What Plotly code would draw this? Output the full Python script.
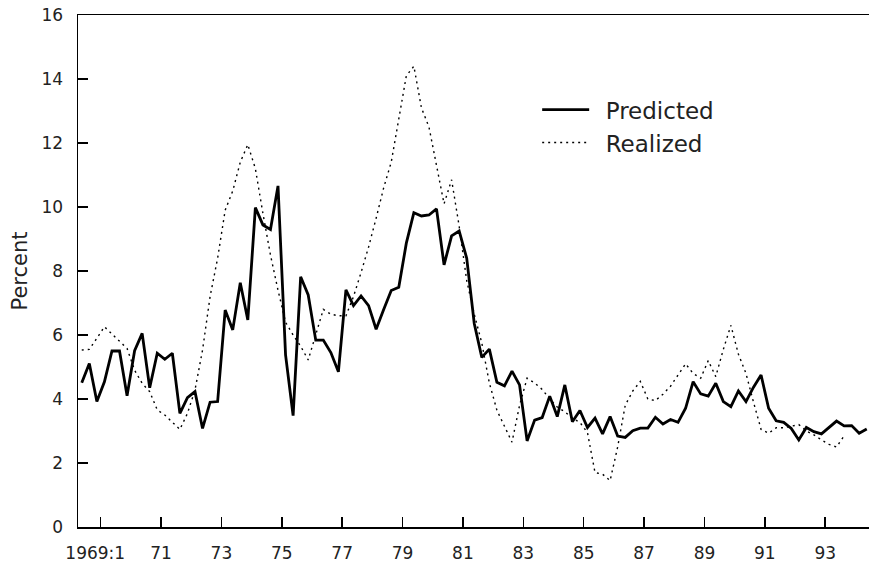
import plotly.graph_objects as go
import pandas as pd

# Quarterly periods, 1968:2 onward
predicted = [4.51, 5.11, 3.92, 4.54, 5.50, 5.50, 4.10, 5.51, 6.05, 4.35,
             5.43, 5.24, 5.43, 3.55, 4.04, 4.23, 3.08, 3.90, 3.92, 6.78,
             6.16, 7.63, 6.47, 9.98, 9.44, 9.30, 10.66, 5.38, 3.48, 7.82,
             7.25, 5.84, 5.84, 5.45, 4.85, 7.41, 6.92, 7.22, 6.92, 6.18,
             6.80, 7.39, 7.49, 8.87, 9.82, 9.72, 9.75, 9.94, 8.19, 9.10,
             9.25, 8.40, 6.36, 5.30, 5.56, 4.52, 4.41, 4.87, 4.44, 2.69,
             3.34, 3.42, 4.09, 3.45, 4.44, 3.29, 3.64, 3.11, 3.40, 2.91,
             3.45, 2.84, 2.80, 3.01, 3.09, 3.09, 3.43, 3.22, 3.36, 3.27,
             3.71, 4.54, 4.16, 4.09, 4.49, 3.92, 3.76, 4.25, 3.92, 4.37,
             4.75, 3.71, 3.32, 3.27, 3.08, 2.72, 3.11, 2.98, 2.91, 3.11,
             3.31, 3.16, 3.17, 2.93, 3.06]

realized = [5.53, 5.55, 5.90, 6.26, 6.03, 5.79, 5.58, 4.90, 4.49, 4.23,
            3.66, 3.50, 3.29, 3.05, 3.55, 4.28, 5.53, 7.20, 8.40, 9.90,
            10.50, 11.40, 11.95, 11.20, 9.80, 8.50, 7.40, 6.40, 6.00, 5.65,
            5.22, 6.00, 6.80, 6.65, 6.60, 6.60, 7.20, 7.95, 8.75, 9.65,
            10.60, 11.40, 12.80, 14.10, 14.40, 13.10, 12.50, 11.30, 10.10, 10.85,
            9.40, 7.70, 6.65, 5.75, 4.50, 3.65, 3.15, 2.65, 3.80, 4.65,
            4.50, 4.30, 4.00, 3.75, 3.60, 3.40, 3.27, 2.95, 1.70, 1.65,
            1.45, 2.50, 3.80, 4.25, 4.55, 4.00, 3.95, 4.15, 4.40, 4.75,
            5.10, 4.80, 4.65, 5.20, 4.70, 5.55, 6.30, 5.40, 4.80, 3.90,
            3.05, 2.93, 3.10, 3.10, 3.15, 3.20, 3.00, 2.88, 2.72, 2.58,
            2.50, 2.85]

tick_years = [1969, 1971, 1973, 1975, 1977, 1979, 1981, 1983, 1985, 1987, 1989, 1991, 1993]
tick_labels = ["1969:1\u00a0\u00a0", "71", "73", "75", "77", "79", "81", "83", "85", "87", "89", "91", "93"]
y_ticks = [0, 2, 4, 6, 8, 10, 12, 14, 16]

periods = pd.period_range("1968Q2", periods=len(predicted), freq="Q")
x_all = [p.year + (p.quarter - 0.5) / 4 for p in periods]

fig = go.Figure()
fig.add_trace(go.Scatter(x=x_all, y=predicted, mode="lines", name="\u2002Predicted",
                         line=dict(color="black", width=2.8)))
fig.add_trace(go.Scatter(x=x_all[:len(realized)], y=realized, mode="lines", name="\u2002Realized",
                         line=dict(color="black", width=1.4, dash="2px,4px")))

font_family = "DejaVu Sans"
fig.update_layout(
    width=869, height=561,
    margin=dict(l=78, r=0, t=15, b=34, autoexpand=False),
    paper_bgcolor="white", plot_bgcolor="white",
    font=dict(family=font_family, size=17, color="#222"),
    showlegend=True,
    legend=dict(x=0.5805, y=0.857, xanchor="left", yanchor="top",
                font=dict(size=23, color="#222"), bgcolor="rgba(0,0,0,0)",
                itemwidth=47, borderwidth=0),
    xaxis=dict(range=[1968.25, 1994.45], tickmode="array", tickvals=tick_years,
               ticktext=tick_labels, ticks="inside", ticklen=10, tickwidth=1.5,
               tickcolor="black", showline=True, linecolor="black", linewidth=1.5,
               mirror=True, showgrid=False, zeroline=False, ticklabelstandoff=10,
               automargin=False, ticklabeloverflow="allow"),
    yaxis=dict(range=[0, 16], tickmode="array", tickvals=y_ticks,
               ticks="inside", ticklen=10, tickwidth=1.5, tickcolor="black",
               showline=True, linecolor="black", linewidth=1.5, showgrid=False,
               zeroline=False, ticklabelstandoff=10, automargin=False,
               ticklabeloverflow="allow",
               title=dict(text="Percent", font=dict(size=21), standoff=8)),
)

fig.write_html(
    "out.html",
    config={"displayModeBar": False, "staticPlot": True},
    post_script="document.body.style.margin='0px';"
                "document.documentElement.style.overflow='hidden';"
                "document.body.style.overflow='hidden';",
)
